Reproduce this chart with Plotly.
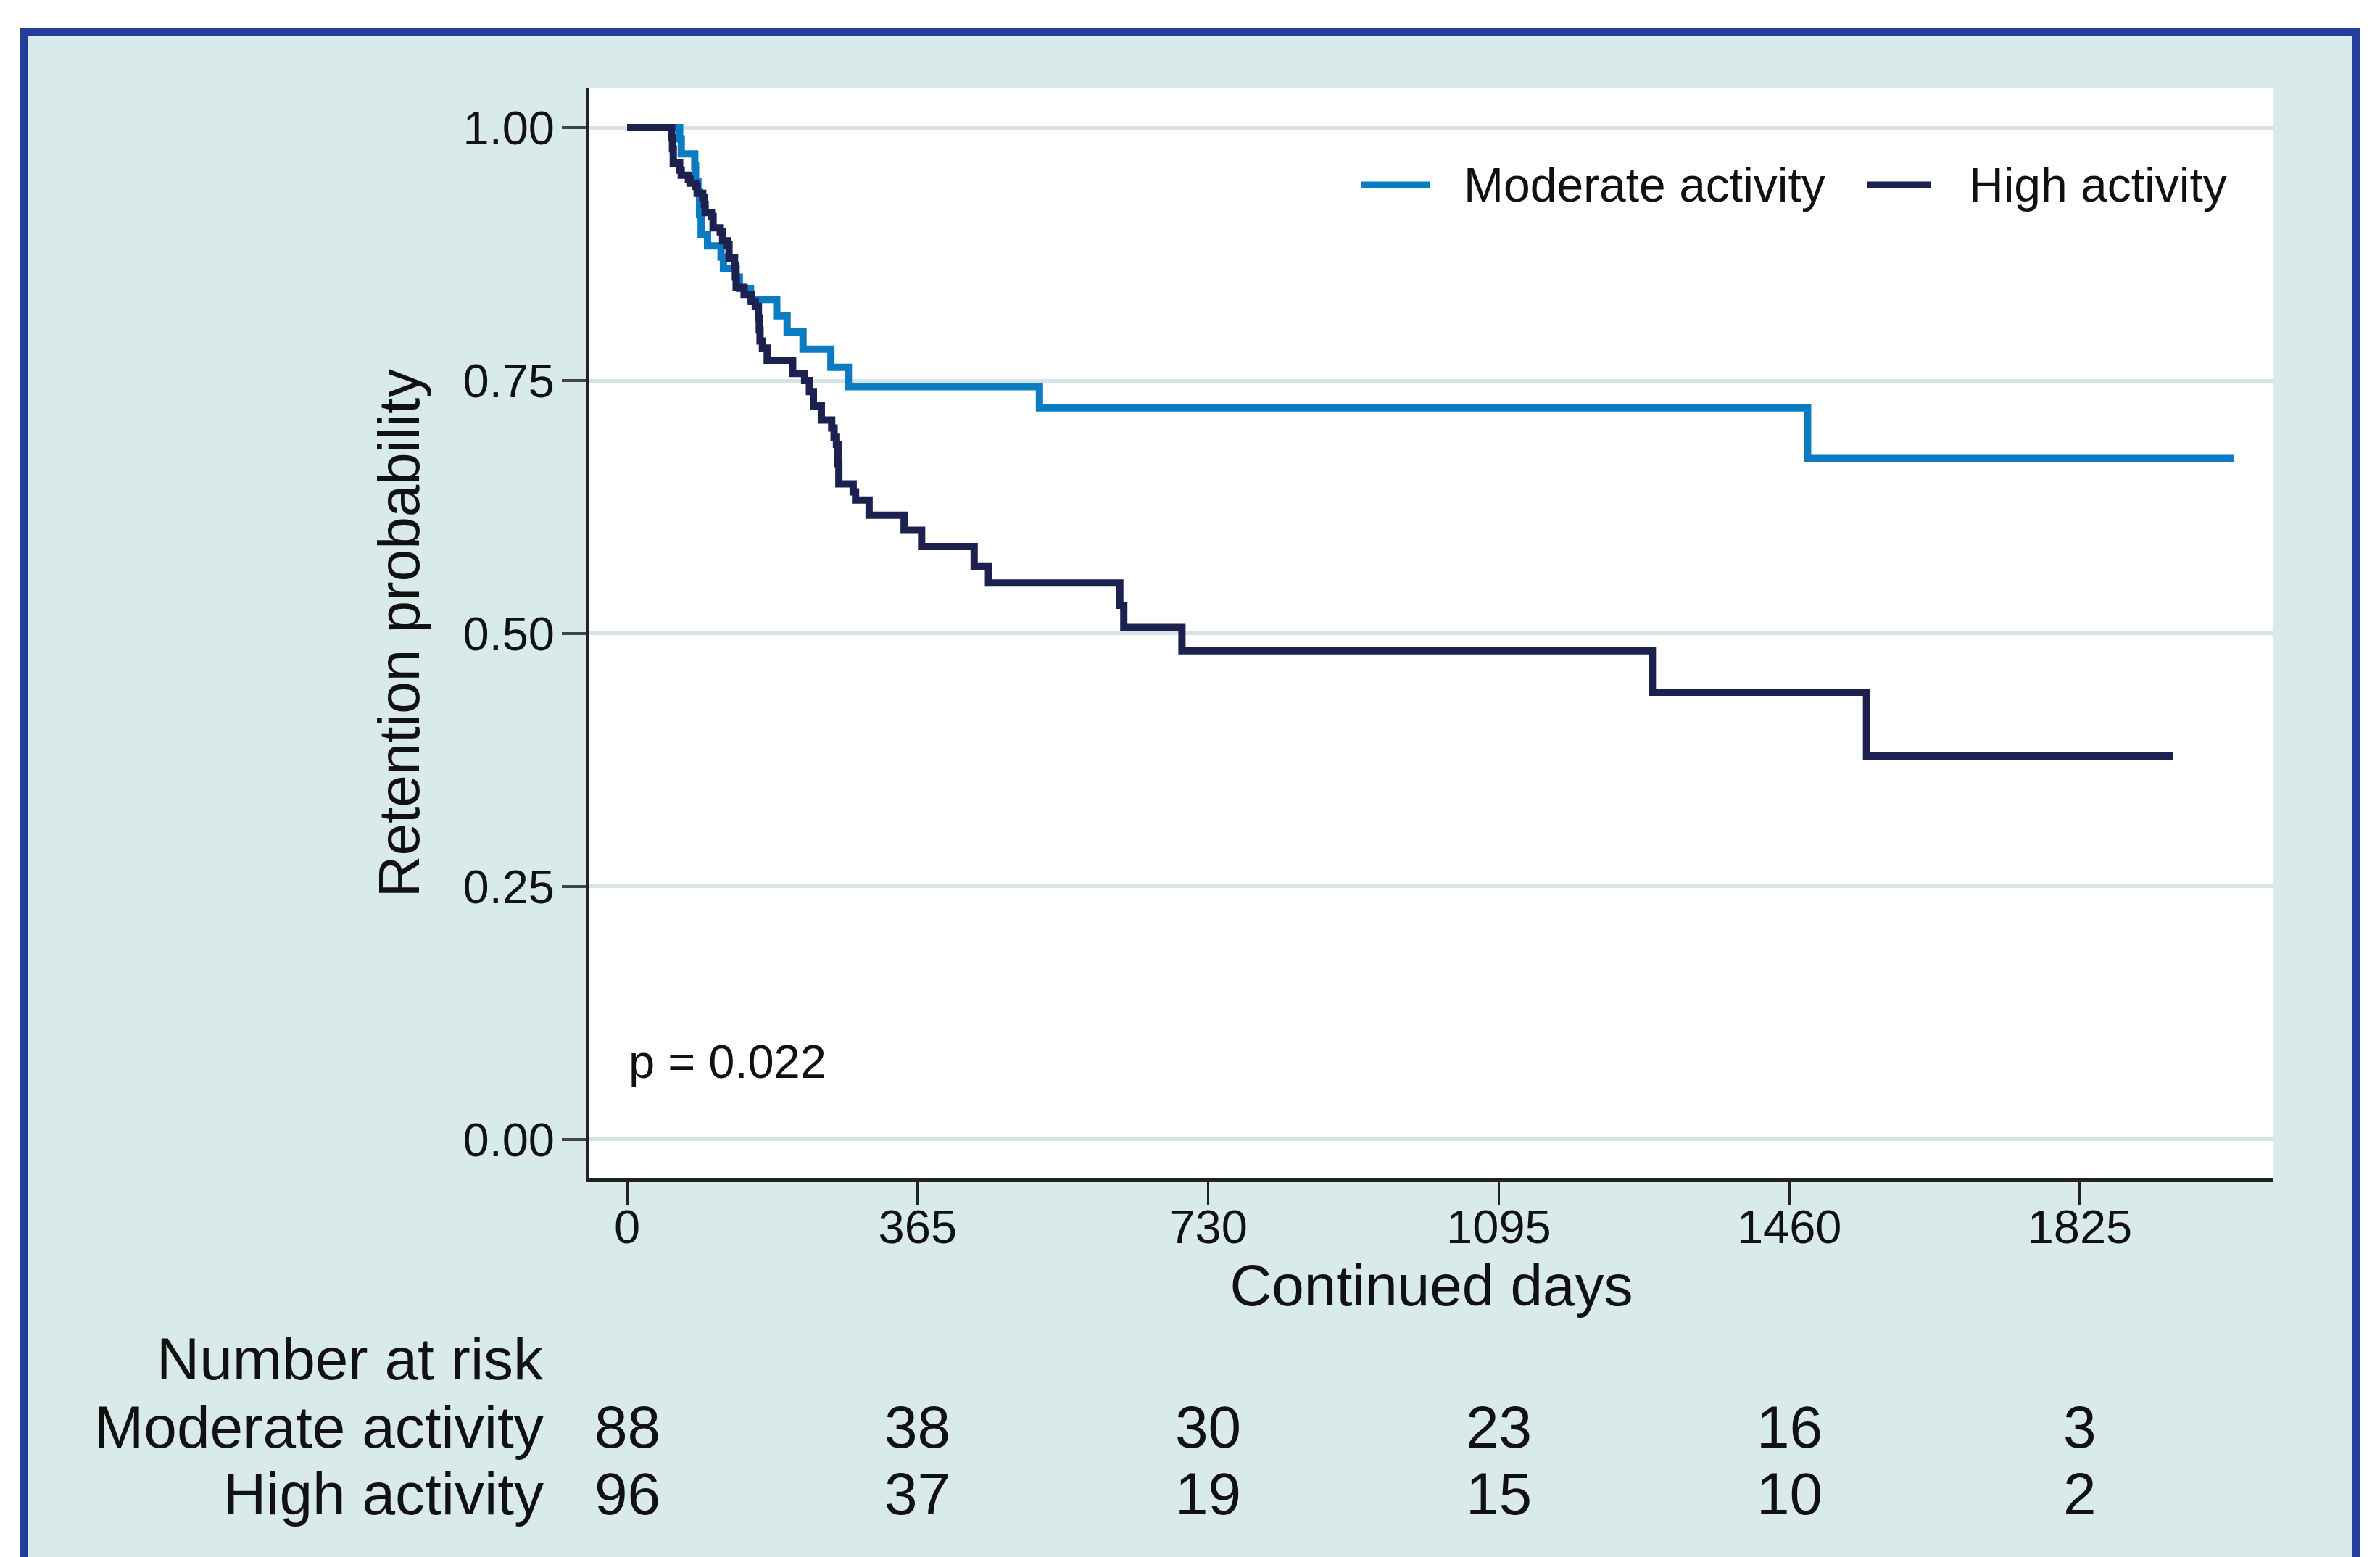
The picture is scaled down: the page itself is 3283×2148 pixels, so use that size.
import plotly.graph_objects as go

# ---------------- data ----------------
mod_days = [0, 66, 68, 85, 86, 89, 91, 93, 101, 118, 121, 137, 141, 155, 188, 201,
            221, 256, 278, 518, 1483, 2019]
mod_surv = [1.000, 0.989, 0.974, 0.962, 0.947, 0.936, 0.914, 0.894, 0.883, 0.872,
            0.861, 0.852, 0.841, 0.830, 0.814, 0.798, 0.781, 0.763, 0.744, 0.723,
            0.673, 0.673]

high_days = [0, 56, 57, 58, 66, 68, 77, 79, 86, 88, 95, 97, 98, 106, 108, 117, 120,
             126, 128, 135, 136, 137, 147, 156, 161, 165, 166, 167, 170, 176, 208,
             223, 229, 234, 244, 257, 260, 263, 265, 266, 284, 287, 304, 348, 370,
             436, 454, 619, 624, 697, 1288, 1557, 1942]
high_surv = [1.000, 0.990, 0.979, 0.965, 0.958, 0.953, 0.949, 0.945, 0.942, 0.935,
             0.931, 0.924, 0.916, 0.912, 0.901, 0.897, 0.888, 0.884, 0.871, 0.864,
             0.853, 0.842, 0.835, 0.828, 0.823, 0.812, 0.800, 0.789, 0.782, 0.770,
             0.757, 0.750, 0.739, 0.725, 0.711, 0.703, 0.694, 0.687, 0.668, 0.648,
             0.640, 0.632, 0.617, 0.602, 0.586, 0.566, 0.550, 0.528, 0.506, 0.483,
             0.442, 0.379, 0.379]

group_names = ["Moderate activity", "High activity"]
x_ticks = [0, 365, 730, 1095, 1460, 1825]
y_ticks = [0.0, 0.25, 0.50, 0.75, 1.00]
y_tick_labels = ["0.00", "0.25", "0.50", "0.75", "1.00"]
risk_days = [0, 365, 730, 1095, 1460, 1825]
risk_moderate = [88, 38, 30, 23, 16, 3]
risk_high = [96, 37, 19, 15, 10, 2]
p_text = "p = 0.022"

# ---------------- styling ----------------
OFF = 8                      # default page (body) margin
W, H = 3283 - OFF, 2148 - OFF
L, T = 813 - OFF, 122 - OFF
R = W - (3136 - OFF)
B = H - (1625 - OFF)
PW, PH = W - L - R, H - T - B
FONT = "Liberation Sans, Arial, Helvetica, sans-serif"
TXT = "#111111"
C_MOD = "#0b7cc2"
C_HIGH = "#1d2150"
TEAL = "#d8eae9"
BLUE = "#243f99"
GRID = "#d6e3e7"


def px(xs):
    """screen x (pixels) -> paper fraction"""
    return (xs - OFF - L) / PW


def py(ys):
    """screen y (pixels) -> paper fraction"""
    return (H - B - (ys - OFF)) / PH


fig = go.Figure()
fig.add_trace(go.Scatter(x=mod_days, y=mod_surv, mode="lines", name=group_names[0],
                         line=dict(shape="hv", color=C_MOD, width=10)))
fig.add_trace(go.Scatter(x=high_days, y=high_surv, mode="lines", name=group_names[1],
                         line=dict(shape="hv", color=C_HIGH, width=10)))

shapes = []
# white surroundings outside the framed panel
shapes.append(dict(type="rect", xref="paper", yref="paper", x0=px(-20), x1=px(3300),
                   y0=py(38), y1=py(-20), fillcolor="white", line=dict(width=0), layer="below"))
shapes.append(dict(type="rect", xref="paper", yref="paper", x0=px(-20), x1=px(28),
                   y0=py(2200), y1=py(-20), fillcolor="white", line=dict(width=0), layer="below"))
shapes.append(dict(type="rect", xref="paper", yref="paper", x0=px(3256), x1=px(3300),
                   y0=py(2200), y1=py(-20), fillcolor="white", line=dict(width=0), layer="below"))
# blue frame
shapes.append(dict(type="rect", xref="paper", yref="paper", x0=px(33), x1=px(3250),
                   y0=py(2220), y1=py(43.5), line=dict(color=BLUE, width=11),
                   fillcolor="rgba(0,0,0,0)", layer="below"))

annotations = []
# manual legend
leg_y = py(255)
for (x0p, x1p, xt, name, col) in [(1878, 1973, 2017, group_names[0], C_MOD),
                                  (2576, 2664, 2714, group_names[1], C_HIGH)]:
    shapes.append(dict(type="line", xref="paper", yref="paper", x0=px(x0p), x1=px(x1p),
                       y0=leg_y, y1=leg_y, line=dict(color=col, width=9), layer="above"))
    annotations.append(dict(xref="paper", yref="paper", x=px(xt), y=leg_y, text=name,
                            showarrow=False, xanchor="left", yanchor="middle",
                            font=dict(family=FONT, size=66, color=TXT)))

# p-value
annotations.append(dict(xref="x", yref="y", x=0, y=0.077, text=p_text, showarrow=False,
                        xanchor="left", yanchor="middle",
                        font=dict(family=FONT, size=65, color=TXT)))

# number at risk table
annotations.append(dict(xref="paper", yref="paper", x=px(752), y=py(1874),
                        text="Number at risk", showarrow=False, xanchor="right",
                        yanchor="middle", font=dict(family=FONT, size=82, color=TXT)))
for name, vals, ypx in [(group_names[0], risk_moderate, 1968),
                        (group_names[1], risk_high, 2060)]:
    annotations.append(dict(xref="paper", yref="paper", x=px(752), y=py(ypx), text=name,
                            showarrow=False, xanchor="right", yanchor="middle",
                            font=dict(family=FONT, size=82, color=TXT)))
    for d, v in zip(risk_days, vals):
        annotations.append(dict(xref="x", yref="paper", x=d, y=py(ypx), text=str(v),
                                showarrow=False, xanchor="center", yanchor="middle",
                                font=dict(family=FONT, size=82, color=TXT)))

fig.update_layout(
    width=W, height=H,
    margin=dict(l=L, r=R, t=T, b=B, autoexpand=False),
    paper_bgcolor=TEAL, plot_bgcolor="white",
    showlegend=False,
    font=dict(family=FONT, color=TXT),
    shapes=shapes, annotations=annotations,
)
fig.update_xaxes(
    range=[-47.4, 2068.2], tickvals=x_ticks, ticktext=[str(t) for t in x_ticks],
    ticks="outside", ticklen=32, tickwidth=3, tickcolor="#222222",
    showline=True, linecolor="#222222", linewidth=6, showgrid=False, zeroline=False,
    tickfont=dict(family=FONT, size=65, color=TXT), ticklabelstandoff=-26,
    title=dict(text="Continued days", font=dict(family=FONT, size=80, color=TXT), standoff=14),
)
fig.update_yaxes(
    range=[-0.038, 1.0387], tickvals=y_ticks, ticktext=y_tick_labels,
    ticks="outside", ticklen=33, tickwidth=4, tickcolor="#444444",
    showline=True, linecolor="#222222", linewidth=5, showgrid=True, gridcolor=GRID,
    gridwidth=5, zeroline=False,
    tickfont=dict(family=FONT, size=65, color=TXT), ticklabelstandoff=-3,
    title=dict(text="Retention probability", font=dict(family=FONT, size=80, color=TXT), standoff=35),
)

fig.write_html("out.html")
